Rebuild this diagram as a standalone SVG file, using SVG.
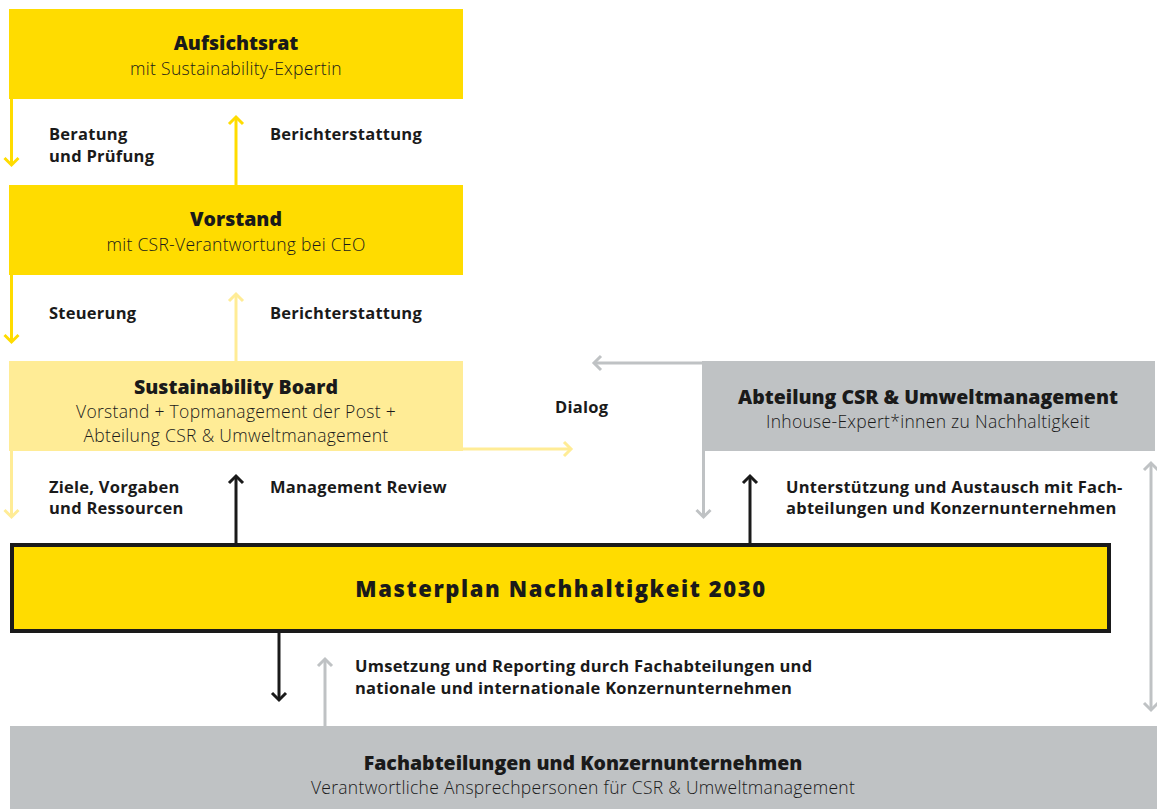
<svg xmlns="http://www.w3.org/2000/svg" width="1157" height="809" viewBox="0 0 1157 809">
  <style>
    .title { font-family: "Open Sans", "Noto Sans", sans-serif; font-weight: 800; font-size: 19.5px; fill: #1a1a1a; text-anchor: middle; }
    .sub { font-family: "Open Sans", "Noto Sans", sans-serif; font-weight: 300; font-size: 17.5px; letter-spacing: 0.3px; fill: #1a1a1a; text-anchor: middle; }
    .lbl { font-family: "Open Sans", "Noto Sans", sans-serif; font-weight: 700; font-size: 16.5px; letter-spacing: 0.25px; fill: #1a1a1a; }
    .master { font-family: "Open Sans", "Noto Sans", sans-serif; font-weight: 800; font-size: 22px; fill: #1a1a1a; text-anchor: middle; letter-spacing: 1.6px; }
    .yellow { fill: #FFDC00; }
    .pale { fill: #FFEC96; }
    .grey { fill: #BFC2C4; }
    .c { fill: none; stroke-width: 3; }
    .cy { stroke: #FFDC00; }
    .cp { stroke: #FFEC96; }
    .cg { stroke: #BFC2C4; }
    .ck { stroke: #1a1a1a; }
  </style>
  <defs>
    <marker id="ah-y" markerUnits="userSpaceOnUse" markerWidth="20" markerHeight="20" refX="10" refY="10" orient="auto-start-reverse" overflow="visible">
      <path d="M3,3 L10,10 L3,17" fill="none" stroke="#FFDC00" stroke-width="3"/>
    </marker>
    <marker id="ah-p" markerUnits="userSpaceOnUse" markerWidth="20" markerHeight="20" refX="10" refY="10" orient="auto-start-reverse" overflow="visible">
      <path d="M3,3 L10,10 L3,17" fill="none" stroke="#FFEC96" stroke-width="3"/>
    </marker>
    <marker id="ah-g" markerUnits="userSpaceOnUse" markerWidth="20" markerHeight="20" refX="10" refY="10" orient="auto-start-reverse" overflow="visible">
      <path d="M3,3 L10,10 L3,17" fill="none" stroke="#BFC2C4" stroke-width="3"/>
    </marker>
    <marker id="ah-k" markerUnits="userSpaceOnUse" markerWidth="20" markerHeight="20" refX="10" refY="10" orient="auto-start-reverse" overflow="visible">
      <path d="M3,3 L10,10 L3,17" fill="none" stroke="#1a1a1a" stroke-width="3"/>
    </marker>
  </defs>

  <rect width="1157" height="809" fill="#ffffff"/>

  <!-- connectors and their labels -->
  <g id="connectors">
    <line class="c cy" x1="11.5" y1="99" x2="11.5" y2="165" marker-end="url(#ah-y)"/>
    <line class="c cy" x1="236" y1="185" x2="236" y2="117" marker-end="url(#ah-y)"/>
    <line class="c cy" x1="11.5" y1="275" x2="11.5" y2="342" marker-end="url(#ah-y)"/>
    <line class="c cp" x1="236" y1="361" x2="236" y2="294" marker-end="url(#ah-p)"/>
    <line class="c cp" x1="11.5" y1="451" x2="11.5" y2="517" marker-end="url(#ah-p)"/>
    <line class="c cp" x1="463" y1="449" x2="571" y2="449" marker-end="url(#ah-p)"/>
    <line class="c cg" x1="702" y1="363" x2="594" y2="363" marker-end="url(#ah-g)"/>
    <line class="c cg" x1="703.5" y1="451" x2="703.5" y2="517" marker-end="url(#ah-g)"/>
    <line class="c cg" x1="1151" y1="463" x2="1151" y2="710" marker-start="url(#ah-g)" marker-end="url(#ah-g)"/>
    <line class="c ck" x1="236" y1="543" x2="236" y2="476" marker-end="url(#ah-k)"/>
    <line class="c ck" x1="750" y1="543" x2="750" y2="476" marker-end="url(#ah-k)"/>
    <line class="c ck" x1="279" y1="633" x2="279" y2="700" marker-end="url(#ah-k)"/>
    <line class="c cg" x1="325" y1="726" x2="325" y2="659" marker-end="url(#ah-g)"/>

    <text class="lbl" x="49" y="140">Beratung</text>
    <text class="lbl" x="49" y="162">und Prüfung</text>
    <text class="lbl" x="270" y="140">Berichterstattung</text>
    <text class="lbl" x="49" y="319">Steuerung</text>
    <text class="lbl" x="270" y="319">Berichterstattung</text>
    <text class="lbl" x="555" y="413">Dialog</text>
    <text class="lbl" x="49" y="493">Ziele, Vorgaben</text>
    <text class="lbl" x="49" y="514">und Ressourcen</text>
    <text class="lbl" x="270" y="493">Management Review</text>
    <text class="lbl" x="786" y="493">Unterstützung und Austausch mit Fach-</text>
    <text class="lbl" x="786" y="514">abteilungen und Konzernunternehmen</text>
    <text class="lbl" x="355" y="672">Umsetzung und Reporting durch Fachabteilungen und</text>
    <text class="lbl" x="355" y="694">nationale und internationale Konzernunternehmen</text>
  </g>

  <g id="aufsichtsrat">
    <rect class="yellow" x="9" y="9" width="454" height="90"/>
    <text class="title" x="236" y="50">Aufsichtsrat</text>
    <text class="sub" x="236" y="75">mit Sustainability-Expertin</text>
  </g>

  <g id="vorstand">
    <rect class="yellow" x="9" y="185" width="454" height="90"/>
    <text class="title" x="236" y="226">Vorstand</text>
    <text class="sub" x="236" y="251">mit CSR-Verantwortung bei CEO</text>
  </g>

  <g id="sustainability-board">
    <rect class="pale" x="9" y="361" width="454" height="90"/>
    <text class="title" x="236" y="394">Sustainability Board</text>
    <text class="sub" x="236" y="418">Vorstand + Topmanagement der Post +</text>
    <text class="sub" x="236" y="442">Abteilung CSR &amp; Umweltmanagement</text>
  </g>

  <g id="abteilung-csr">
    <rect class="grey" x="702" y="361" width="453" height="90"/>
    <text class="title" x="928" y="404">Abteilung CSR &amp; Umweltmanagement</text>
    <text class="sub" x="928" y="428">Inhouse-Expert*innen zu Nachhaltigkeit</text>
  </g>

  <g id="masterplan">
    <rect class="yellow" x="12" y="545" width="1097" height="86" stroke="#1a1a1a" stroke-width="4"/>
    <text class="master" x="561" y="597">Masterplan Nachhaltigkeit 2030</text>
  </g>

  <g id="fachabteilungen">
    <rect class="grey" x="10" y="726" width="1147" height="83"/>
    <text class="title" x="583" y="770">Fachabteilungen und Konzernunternehmen</text>
    <text class="sub" x="583" y="794">Verantwortliche Ansprechpersonen für CSR &amp; Umweltmanagement</text>
  </g>
</svg>
